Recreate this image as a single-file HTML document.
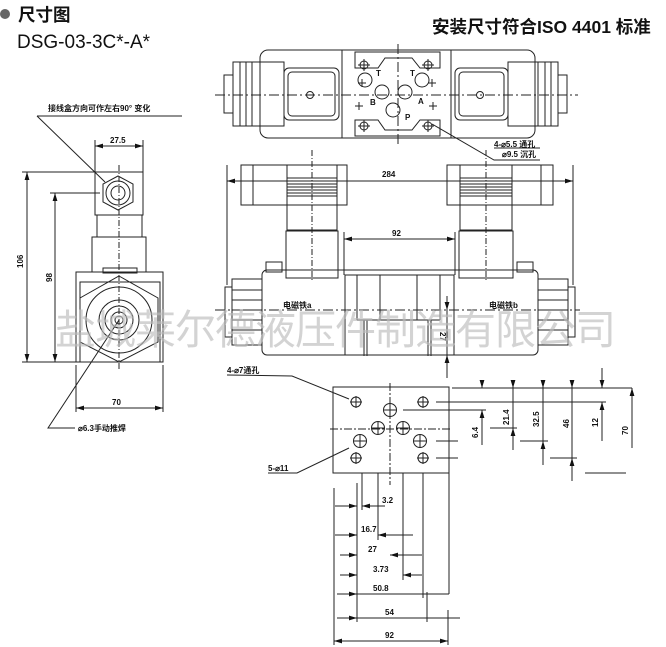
<!DOCTYPE html>
<html><head><meta charset="utf-8"><style>
html,body{margin:0;padding:0;background:#fff;}
svg{display:block;font-family:"Liberation Sans","Noto Sans CJK SC",sans-serif;}
</style></head><body>
<svg width="666" height="647" viewBox="0 0 666 647" xmlns="http://www.w3.org/2000/svg">
<defs>
<marker id="a" viewBox="0 0 10 6" refX="10" refY="3" markerWidth="8" markerHeight="5" orient="auto-start-reverse"><path d="M0,0L10,3L0,6z" fill="#111"/></marker>
</defs>
<rect width="666" height="647" fill="#fff"/>
<!-- titles -->
<circle cx="5" cy="14" r="5" fill="#666"/>
<text x="18" y="21" font-size="17.5" font-weight="bold" fill="#111">尺寸图</text>
<text x="17" y="48" font-size="19" fill="#111">DSG-03-3C*-A*</text>
<text x="432" y="33" font-size="17.5" font-weight="bold" fill="#111">安装尺寸符合ISO 4401 标准</text>

<g stroke="#222" stroke-width="1" fill="none">
<!-- LEFT VIEW -->
<line x1="37" y1="116" x2="182" y2="116"/>
<line x1="37" y1="116" x2="105" y2="182"/>
<line x1="95" y1="140" x2="95" y2="175"/><line x1="143" y1="140" x2="143" y2="175"/>
<line x1="95" y1="146" x2="143" y2="146" marker-start="url(#a)" marker-end="url(#a)"/>
<line x1="22" y1="172" x2="110" y2="172"/><line x1="50" y1="193" x2="100" y2="193"/>
<line x1="27" y1="172" x2="27" y2="362" marker-start="url(#a)" marker-end="url(#a)"/>
<line x1="55" y1="193" x2="55" y2="362" marker-start="url(#a)" marker-end="url(#a)"/>
<line x1="22" y1="362" x2="76" y2="362"/>
<rect x="95" y="172" width="48" height="43"/>
<polygon points="118,176 133,184 133,202 118,210 103,202 103,184"/>
<circle cx="118" cy="193" r="12"/><circle cx="118" cy="193" r="7"/>
<rect x="97" y="215" width="45" height="22"/>
<rect x="92" y="237" width="54" height="35"/>
<rect x="103" y="268" width="34" height="5"/>
<rect x="76" y="272" width="87" height="90"/>
<rect x="80" y="282" width="80" height="80"/>
<polygon points="119,276 158,298 158,342 119,362 80,342 80,298"/>
<circle cx="119" cy="320" r="33"/><circle cx="119" cy="320" r="20"/><circle cx="119" cy="320" r="14"/><circle cx="119" cy="320" r="8"/><circle cx="119" cy="320" r="4"/>
<line x1="119" y1="165" x2="119" y2="370" stroke-dasharray="6,2,1,2"/>
<line x1="76" y1="365" x2="76" y2="412"/><line x1="163" y1="365" x2="163" y2="412"/>
<line x1="76" y1="408" x2="163" y2="408" marker-start="url(#a)" marker-end="url(#a)"/>
<polyline points="119,320 48,428 75,428"/>

<!-- TOP VIEW -->
<line x1="215" y1="95" x2="578" y2="95" stroke-dasharray="10,3,2,3"/>
<line x1="398" y1="44" x2="398" y2="146" stroke-dasharray="10,3,2,3"/>
<rect x="260" y="50" width="275" height="88" rx="8"/>
<line x1="342" y1="50" x2="342" y2="138"/><line x1="451" y1="50" x2="451" y2="138"/>
<polygon points="355,52 355,68 378,68 385,58 412,58 420,68 440,68 440,52"/>
<polygon points="355,136 355,120 378,120 385,130 412,130 420,120 440,120 440,136"/>
<rect x="284" y="68" width="55" height="52" rx="5"/><rect x="288" y="72" width="47" height="44" rx="4"/>
<circle cx="310" cy="95" r="3.5"/>
<rect x="455" y="68" width="53" height="52" rx="5"/><rect x="459" y="72" width="45" height="44" rx="4"/>
<circle cx="480" cy="95" r="3.5"/>
<rect x="252" y="62" width="32" height="64"/><rect x="233" y="62" width="19" height="64"/><rect x="224" y="75" width="9" height="38"/>
<line x1="240" y1="62" x2="240" y2="126"/><line x1="246" y1="62" x2="246" y2="126"/>
<rect x="508" y="62" width="30" height="64"/><rect x="538" y="62" width="20" height="64"/><rect x="558" y="75" width="9" height="38"/>
<line x1="545" y1="62" x2="545" y2="126"/><line x1="551" y1="62" x2="551" y2="126"/>
<circle cx="365" cy="80" r="7"/><circle cx="422" cy="80" r="7"/><circle cx="382" cy="92" r="7"/><circle cx="405" cy="92" r="7"/><circle cx="393" cy="110" r="7"/>
<circle cx="364" cy="65" r="4"/><circle cx="428" cy="65" r="4"/><circle cx="364" cy="126" r="4"/><circle cx="428" cy="126" r="4"/>
<path d="M358,65h12M364,59v12M422,65h12M428,59v12M358,126h12M364,120v12M422,126h12M428,120v12M358,83h8M362,79v8M428,83h8M432,79v8M355,106h8M359,102v8M429,106h8M433,102v8"/>
<polyline points="432,124 494,160 540,160"/>
<line x1="494" y1="148" x2="540" y2="148"/>

<!-- SIDE VIEW -->
<line x1="227" y1="165" x2="227" y2="285"/><line x1="573" y1="165" x2="573" y2="285"/>
<line x1="227" y1="181" x2="573" y2="181" marker-start="url(#a)" marker-end="url(#a)"/>
<line x1="312" y1="150" x2="312" y2="280" stroke-dasharray="6,2,1,2"/><line x1="486" y1="150" x2="486" y2="280" stroke-dasharray="6,2,1,2"/>
<rect x="241" y="165" width="12" height="40"/><rect x="253" y="165" width="94" height="40"/>
<rect x="287" y="165" width="50" height="65"/>
<path d="M287,178h50M287,181h50M287,184h50M287,187h50M287,190h50M287,193h50M287,196h50"/>
<rect x="286" y="231" width="52" height="47"/>
<rect x="541" y="165" width="12" height="40"/><rect x="447" y="165" width="94" height="40"/>
<rect x="460" y="165" width="52" height="65"/>
<path d="M460,178h52M460,181h52M460,184h52M460,187h52M460,190h52M460,193h52M460,196h52"/>
<rect x="459" y="231" width="54" height="47"/>
<line x1="344" y1="239" x2="455" y2="239" marker-start="url(#a)" marker-end="url(#a)"/>
<line x1="344" y1="232" x2="344" y2="275"/><line x1="455" y1="232" x2="455" y2="275"/>
<rect x="262" y="270" width="276" height="85" rx="5"/>
<rect x="345" y="275" width="109" height="80"/>
<line x1="357" y1="275" x2="357" y2="320"/><line x1="380" y1="275" x2="380" y2="320"/><line x1="417" y1="275" x2="417" y2="320"/><line x1="440" y1="275" x2="440" y2="320"/>
<line x1="357" y1="320" x2="440" y2="320"/>
<path d="M364,320v36M367,320v36M428,320v36M431,320v36"/>
<rect x="266" y="262" width="16" height="10"/><rect x="517" y="262" width="16" height="10"/>
<rect x="232" y="279" width="30" height="66"/><rect x="225" y="287" width="7" height="50"/>
<path d="M232,290h30M232,300h30M232,310h30M232,320h30M232,330h30"/>
<rect x="538" y="279" width="30" height="66"/><rect x="568" y="287" width="7" height="50"/>
<path d="M538,290h30M538,300h30M538,310h30M538,320h30M538,330h30"/>
<line x1="215" y1="310" x2="580" y2="310" stroke-dasharray="10,3,2,3"/>
<line x1="447" y1="296" x2="447" y2="310" marker-end="url(#a)"/>
<line x1="447" y1="378" x2="447" y2="355" marker-end="url(#a)"/>
<line x1="447" y1="310" x2="447" y2="355"/>

<!-- PLATE -->
<polyline points="227,375 292,376 349,399" />
<polyline points="268,473 297,473 349,448"/>
<rect x="333" y="387" width="116" height="86"/>
<line x1="390" y1="383" x2="390" y2="485" stroke-dasharray="8,2,2,2"/>
<line x1="330" y1="429" x2="452" y2="429" stroke-dasharray="8,2,2,2"/>
<circle cx="356" cy="402" r="5"/><circle cx="423" cy="402" r="5"/><circle cx="356" cy="458" r="5"/><circle cx="423" cy="458" r="5"/>
<path d="M350,402h12M356,396v12M417,402h12M423,396v12M350,458h12M356,452v12M417,458h12M423,452v12"/>
<circle cx="390" cy="410" r="6.5"/><circle cx="378" cy="428" r="6.5"/><circle cx="403" cy="428" r="6.5"/><circle cx="360" cy="441" r="6.5"/><circle cx="420" cy="441" r="6.5"/>
<path d="M384,410h12M390,404v12M372,428h12M378,422v12M397,428h12M403,422v12M354,441h12M360,435v12M414,441h12M420,435v12"/>
<!-- right dims -->
<line x1="452" y1="388" x2="632" y2="388"/>
<line x1="436" y1="402" x2="606" y2="402"/>
<line x1="403" y1="410" x2="486" y2="410"/>
<line x1="490" y1="428" x2="517" y2="428"/>
<line x1="520" y1="441" x2="548" y2="441"/>
<line x1="550" y1="458" x2="577" y2="458"/>
<line x1="585" y1="473" x2="626" y2="473"/>
<line x1="436" y1="441" x2="458" y2="441"/><line x1="436" y1="458" x2="458" y2="458"/>
<line x1="482" y1="380" x2="482" y2="388" marker-end="url(#a)"/><line x1="482" y1="445" x2="482" y2="410" marker-end="url(#a)"/>
<line x1="513" y1="380" x2="513" y2="388" marker-end="url(#a)"/><line x1="513" y1="450" x2="513" y2="428" marker-end="url(#a)"/><line x1="513" y1="388" x2="513" y2="428"/>
<line x1="543" y1="380" x2="543" y2="388" marker-end="url(#a)"/><line x1="543" y1="465" x2="543" y2="441" marker-end="url(#a)"/><line x1="543" y1="388" x2="543" y2="441"/>
<line x1="572" y1="380" x2="572" y2="388" marker-end="url(#a)"/><line x1="572" y1="481" x2="572" y2="458" marker-end="url(#a)"/><line x1="572" y1="388" x2="572" y2="458"/>
<line x1="602" y1="368" x2="602" y2="388" marker-end="url(#a)"/><line x1="602" y1="441" x2="602" y2="402" marker-end="url(#a)"/>
<line x1="632" y1="448" x2="632" y2="388" marker-end="url(#a)"/>
<!-- bottom dims -->
<line x1="334" y1="488" x2="334" y2="645"/>
<line x1="357" y1="483" x2="357" y2="622"/>
<line x1="362" y1="473" x2="362" y2="510"/>
<line x1="378" y1="473" x2="378" y2="540"/>
<line x1="403" y1="473" x2="403" y2="580"/>
<line x1="423" y1="473" x2="423" y2="598"/><line x1="427" y1="592" x2="427" y2="622"/>
<line x1="449" y1="473" x2="449" y2="594"/><line x1="448" y1="610" x2="448" y2="645"/>
<line x1="335" y1="506" x2="357" y2="506" marker-end="url(#a)"/><line x1="385" y1="506" x2="362" y2="506" marker-end="url(#a)"/>
<line x1="335" y1="535" x2="357" y2="535" marker-end="url(#a)"/><line x1="413" y1="535" x2="378" y2="535" marker-end="url(#a)"/>
<line x1="340" y1="555" x2="357" y2="555" marker-end="url(#a)"/><line x1="422" y1="555" x2="390" y2="555" marker-end="url(#a)"/>
<line x1="340" y1="575" x2="357" y2="575" marker-end="url(#a)"/><line x1="422" y1="575" x2="403" y2="575" marker-end="url(#a)"/>
<line x1="337" y1="594" x2="357" y2="594" marker-end="url(#a)"/><line x1="357" y1="594" x2="449" y2="594"/>
<line x1="337" y1="618" x2="357" y2="618" marker-end="url(#a)"/><line x1="357" y1="618" x2="460" y2="618"/>
<line x1="334" y1="641" x2="448" y2="641" marker-start="url(#a)" marker-end="url(#a)"/>
</g>

<!-- labels -->
<g font-size="8" font-weight="bold" fill="#111">
<text x="48" y="111">接线盒方向可作左右90° 变化</text>
<text x="110" y="143">27.5</text>
<text x="112" y="405">70</text>
<text x="78" y="431">⌀6.3手动推焊</text>
<text transform="translate(23,268) rotate(-90)">106</text>
<text transform="translate(52,282) rotate(-90)">98</text>
<text x="376" y="76">T</text><text x="410" y="76">T</text>
<text x="370" y="105">B</text><text x="418" y="104">A</text><text x="405" y="120">P</text>
<text x="494" y="147">4-⌀5.5 通孔</text>
<text x="502" y="157">⌀9.5 沉孔</text>
<text x="382" y="177">284</text>
<text x="392" y="236">92</text>
<text x="283" y="308">电磁铁a</text>
<text x="489" y="308">电磁铁b</text>
<text transform="translate(440,332) rotate(90)">27</text>
<text x="227" y="373">4-⌀7通孔</text>
<text x="268" y="471">5-⌀11</text>
<text transform="translate(478,438) rotate(-90)">6.4</text>
<text transform="translate(509,425) rotate(-90)">21.4</text>
<text transform="translate(539,427) rotate(-90)">32.5</text>
<text transform="translate(569,428) rotate(-90)">46</text>
<text transform="translate(598,427) rotate(-90)">12</text>
<text transform="translate(628,435) rotate(-90)">70</text>
<text x="382" y="503">3.2</text>
<text x="361" y="532">16.7</text>
<text x="368" y="552">27</text>
<text x="373" y="572">3.73</text>
<text x="373" y="591">50.8</text>
<text x="385" y="615">54</text>
<text x="385" y="638">92</text>
</g>
<!-- watermark -->
<text x="55" y="344" font-size="41" fill="#bbb" fill-opacity="0.65" letter-spacing="-1">盐城莱尔德液压件制造有限公司</text>
</svg>
</body></html>
